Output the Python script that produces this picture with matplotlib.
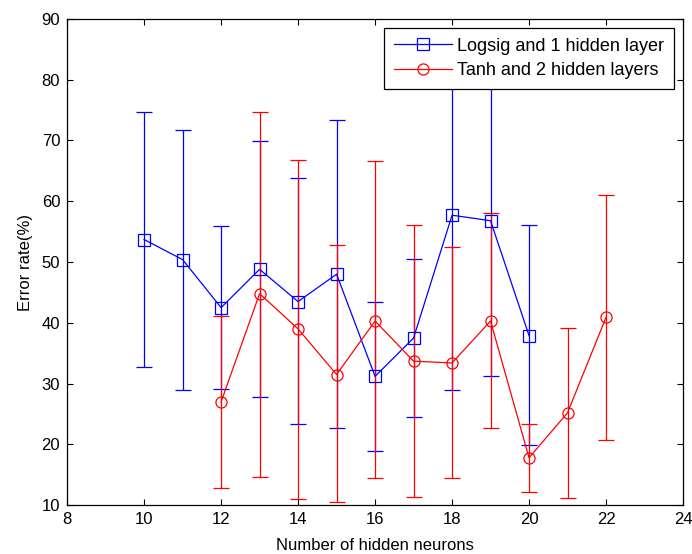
import matplotlib
matplotlib.use("Agg")
import numpy as np
import matplotlib.pyplot as plt

plt.rcParams['font.family'] = ['Liberation Sans', 'DejaVu Sans']

# Logsig and 1 hidden layer
logsig_x = [10, 11, 12, 13, 14, 15, 16, 17, 18, 19, 20]
logsig_mean = [53.7, 50.4, 42.5, 48.8, 43.5, 48.0, 31.2, 37.5, 57.7, 56.8, 37.9]
logsig_low = [32.7, 29.0, 29.2, 27.8, 23.3, 22.7, 18.9, 24.5, 29.0, 31.3, 19.9]
logsig_high = [74.6, 71.7, 55.9, 69.9, 63.8, 73.4, 43.5, 50.5, 86.4, 82.3, 56.1]

# Tanh and 2 hidden layers
tanh_x = [12, 13, 14, 15, 16, 17, 18, 19, 20, 21, 22]
tanh_mean = [27.0, 44.8, 39.0, 31.5, 40.3, 33.7, 33.4, 40.3, 17.8, 25.2, 40.9]
tanh_low = [12.8, 14.7, 11.1, 10.5, 14.4, 11.4, 14.4, 22.7, 12.1, 11.2, 20.7]
tanh_high = [41.2, 74.7, 66.8, 52.8, 66.6, 56.1, 52.5, 58.1, 23.3, 39.2, 61.0]

fig = plt.figure(figsize=(6.92, 5.54), dpi=100)
ax = fig.add_axes([0.097, 0.088, 0.890, 0.878])

series = [
    (logsig_x, logsig_mean, logsig_low, logsig_high, '#0000ff', 's', 'Logsig and 1 hidden layer'),
    (tanh_x, tanh_mean, tanh_low, tanh_high, '#ff0000', 'o', 'Tanh and 2 hidden layers'),
]
for x, m, lo, hi, col, mk, lab in series:
    m = np.array(m)
    yerr = [m - np.array(lo), np.array(hi) - m]
    ax.errorbar(x, m, yerr=yerr, color=col, lw=0.9, elinewidth=0.9,
                capsize=5.5, capthick=0.9, marker=mk, markersize=8,
                markerfacecolor='none', markeredgecolor=col, markeredgewidth=0.9,
                label=lab)

ax.set_xlim(8, 24)
ax.set_ylim(10, 90)
ax.set_xticks(range(8, 25, 2))
ax.set_yticks(range(10, 91, 10))
ax.tick_params(direction='in', top=True, right=True, length=4, width=0.8,
               labelsize=12)
ax.tick_params(axis='x', pad=5)
ax.tick_params(axis='y', pad=5)
for s in ax.spines.values():
    s.set_linewidth(0.9)
ax.set_xlabel('Number of hidden neurons', fontsize=12, labelpad=8)
ax.set_ylabel('Error rate(%)', fontsize=12, labelpad=6)

# legend with line + marker only (no error bars)
handles = [plt.Line2D([], [], color=c, lw=0.9, marker=mk, markersize=8,
                      markerfacecolor='none', markeredgewidth=0.9)
           for _, _, _, _, c, mk, _ in series]
labels = [s[6] for s in series]
leg = ax.legend(handles, labels, loc='upper right', fontsize=13, fancybox=False,
                framealpha=1, edgecolor='black', borderaxespad=0.5,
                handlelength=3.2, handletextpad=0.3, borderpad=0.55,
                labelspacing=0.4)
leg.get_frame().set_linewidth(0.9)

fig.savefig('out.png', dpi=100)
